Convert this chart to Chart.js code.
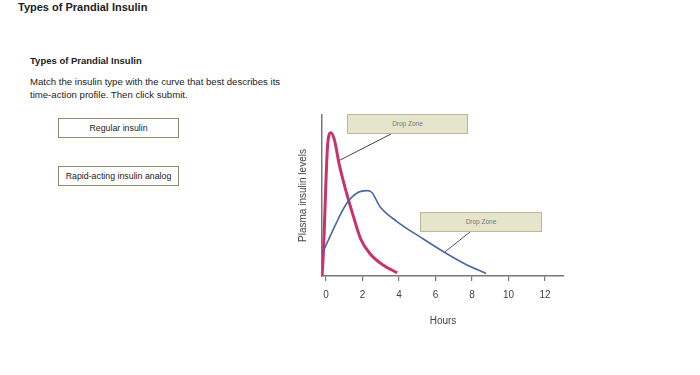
<!DOCTYPE html>
<html>
<head>
<meta charset="utf-8">
<script src="https://cdn.jsdelivr.net/npm/chart.js@4"></script>
<style>
  body { margin: 0; width: 700px; height: 375px; background: #fff; font-family: "Liberation Sans", Arial, sans-serif; color: #222; position: relative; overflow: hidden; }
  .top-title { position: absolute; left: 18px; top: 1px; font-size: 11px; font-weight: bold; }
  .heading { position: absolute; left: 30px; top: 55px; font-size: 9.5px; font-weight: bold; }
  .intro { position: absolute; left: 30px; top: 75px; font-size: 9.6px; line-height: 13px; white-space: nowrap; }
  .choice { position: absolute; left: 58px; width: 119px; height: 18px; border: 1px solid #8b8b6e; font-size: 8.8px; line-height: 18px; text-align: center; background: #fff; }
  .drop { position: absolute; height: 18px; background: #e5e5cb; border: 1px solid #b9b994; font-size: 6.5px; line-height: 18px; text-align: center; color: #777; z-index: 2; }
  #wrap { position: absolute; left: 280px; top: 100px; width: 300px; height: 231px; }
</style>
</head>
<body>
<div class="top-title">Types of Prandial Insulin</div>
<div class="heading">Types of Prandial Insulin</div>
<div class="intro">Match the insulin type with the curve that best describes its<br>time-action profile. Then click submit.</div>
<div class="choice" style="top:118px;">Regular insulin</div>
<div class="choice" style="top:166px;">Rapid-acting insulin analog</div>
<div class="drop" style="left:347px; top:114px; width:119px;">Drop Zone</div>
<div class="drop" style="left:420px; top:212px; width:120px;">Drop Zone</div>
<div id="wrap"><canvas id="insulinChart"></canvas></div>

<script>
// hours / level (0-100)
const rapidHours = [-0.22, -0.15, 0.1, 0.27, 0.45, 0.73, 1.04, 1.5, 1.9, 2.4, 3.1, 3.9];
const rapidLevel = [0, 13, 83, 89, 85, 69, 55, 37, 23, 14, 7, 2];

const regularHours = [-0.2, 0.4, 1.13, 1.77, 2.23, 2.5, 2.96, 3.87, 5.33, 6.6, 7.7, 8.77];
const regularLevel = [14, 29, 45, 52, 53, 52, 43, 34, 23, 14, 7, 1.6];

const hourTicks = [0, 2, 4, 6, 8, 10, 12];

// connector lines from drop zones to the curves
const connectorPlugin = {
    id: "connectors",
    afterDatasetsDraw(chart) {
        const ctx = chart.ctx;
        const x = chart.scales.x, y = chart.scales.y;
        const links = [
            { from: [111, 34], to: [0.77, 72], color: "#444" },
            { from: [190, 132], to: [6.52, 15], color: "#555" }
        ];
        ctx.save();
        ctx.lineWidth = 1;
        links.forEach(l => {
            ctx.strokeStyle = l.color;
            ctx.beginPath();
            ctx.moveTo(l.from[0], l.from[1]);
            ctx.lineTo(x.getPixelForValue(l.to[0]), y.getPixelForValue(l.to[1]));
            ctx.stroke();
        });
        ctx.restore();
    }
};

new Chart(document.getElementById("insulinChart"), {
    type: "line",
    data: {
        datasets: [
            {
                label: "Regular insulin",
                data: regularHours.map((h, i) => ({ x: h, y: regularLevel[i] })),
                borderColor: "#4b67a3",
                borderWidth: 1.6,
                pointRadius: 0,
                cubicInterpolationMode: "monotone"
            },
            {
                label: "Rapid-acting insulin analog",
                data: rapidHours.map((h, i) => ({ x: h, y: rapidLevel[i] })),
                borderColor: "#c8336b",
                borderWidth: 3,
                pointRadius: 0,
                cubicInterpolationMode: "monotone"
            }
        ]
    },
    options: {
        responsive: true,
        maintainAspectRatio: false,
        animation: false,
        layout: { padding: { left: 17, right: 16, top: 15, bottom: 0 } },
        plugins: {
            legend: { display: false },
            tooltip: { enabled: false }
        },
        scales: {
            x: {
                type: "linear",
                min: -0.22,
                max: 13.04,
                afterBuildTicks: scale => {
                    scale.ticks = hourTicks.map(v => ({ value: v }));
                },
                ticks: {
                    padding: 8,
                    color: "#444",
                    font: { family: "Liberation Sans", size: 10 }
                },
                grid: { drawOnChartArea: false, tickLength: 5, color: "#777", lineWidth: 1.2 },
                border: { color: "#777", width: 1.5 },
                title: {
                    display: true,
                    text: "Hours",
                    color: "#444",
                    font: { family: "Liberation Sans", size: 10 },
                    padding: { top: 6, bottom: 4 }
                }
            },
            y: {
                min: 0,
                max: 100,
                ticks: { display: false },
                grid: { display: false, drawTicks: false },
                border: { color: "#777", width: 1.5 },
                title: {
                    display: true,
                    text: "Plasma insulin levels",
                    color: "#444",
                    font: { family: "Liberation Sans", size: 10 },
                    padding: { top: 0, bottom: 13 }
                }
            }
        }
    },
    plugins: [connectorPlugin]
});
</script>
</body>
</html>
